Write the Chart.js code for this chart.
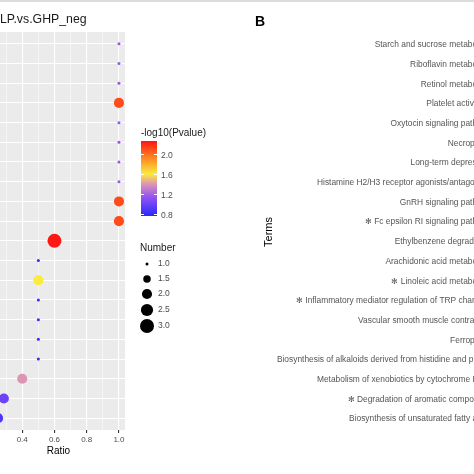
<!DOCTYPE html>
<html lang="en">
<head>
<meta charset="UTF-8">
<title>KEGG enrichment</title>
<style>
  html, body { margin: 0; padding: 0; width: 474px; height: 474px; overflow: hidden; background: #fff; }
  #wrapA { position: absolute; left: -40px; top: 0; width: 277px; height: 474px; }
  #wrapB { position: absolute; left: 237px; top: 0; width: 400px; height: 474px; }
  .topband { position: absolute; left: 0; top: 0; width: 474px; height: 2px; background: #dcdcdc; }
</style>
</head>
<body>
<div id="wrapA"><canvas id="chartA" width="277" height="474"></canvas></div>
<div id="wrapB"><canvas id="chartB" width="400" height="474"></canvas></div>
<div class="topband"></div>

<script src="https://cdn.jsdelivr.net/npm/chart.js"></script>
<script>
// panel A values, top row first
const ratioA  = [1, 1, 1, 1, 1, 1, 1, 1, 1, 1, 0.6, 0.5, 0.5, 0.5, 0.5, 0.5, 0.5, 0.4, 0.286, 0.25];
const numberA = [1, 1, 1, 2, 1, 1, 1, 1, 2, 2, 3, 1, 2, 1, 1, 1, 1, 2, 2, 2];
const logpA   = [1.15, 1.15, 1.15, 2.1, 1.15, 1.15, 1.15, 1.15, 2.1, 2.1, 2.25, 0.8, 1.6, 0.8, 0.8, 0.8, 0.8, 1.4, 1.0, 0.9];

const xTicks = [0.4, 0.6, 0.8, 1.0];
const xMinor = [0.3, 0.5, 0.7, 0.9];
const colorTicks = [0.8, 1.2, 1.6, 2.0];
const sizeTicks = [1.0, 1.5, 2.0, 2.5, 3.0];

// panel B terms, top row first
const termsB = [
  'Starch and sucrose metabolism',
  'Riboflavin metabolism',
  'Retinol metabolism',
  'Platelet activation',
  'Oxytocin signaling pathway',
  'Necroptosis',
  'Long-term depression',
  'Histamine H2/H3 receptor agonists/antagonists',
  'GnRH signaling pathway',
  '\u273B Fc epsilon RI signaling pathway',
  'Ethylbenzene degradation',
  'Arachidonic acid metabolism',
  '\u273B Linoleic acid metabolism',
  '\u273B Inflammatory mediator regulation of TRP channels',
  'Vascular smooth muscle contraction',
  'Ferroptosis',
  'Biosynthesis of alkaloids derived from histidine and purine',
  'Metabolism of xenobiotics by cytochrome P450',
  '\u273B Degradation of aromatic compounds',
  'Biosynthesis of unsaturated fatty acids'
];

Chart.defaults.font.family = '"Liberation Sans", Arial, sans-serif';

// colour scale for -log10(Pvalue)
const cMin = 0.76, cMax = 2.26;
const cStops = [
  [0.76, [40, 40, 255]],
  [1.15, [150, 85, 240]],
  [1.4, [220, 150, 180]],
  [1.6, [250, 235, 60]],
  [2.0, [255, 110, 30]],
  [2.26, [255, 20, 20]]
];
function colorFor(v) {
  for (let i = 1; i < cStops.length; i++) {
    if (v <= cStops[i][0]) {
      const [v0, c0] = cStops[i - 1], [v1, c1] = cStops[i];
      const t = Math.max(0, (v - v0) / (v1 - v0));
      const c = c0.map((a, k) => Math.round(a + (c1[k] - a) * t));
      return `rgb(${c[0]},${c[1]},${c[2]})`;
    }
  }
  const c = cStops[cStops.length - 1][1];
  return `rgb(${c[0]},${c[1]},${c[2]})`;
}

// area-proportional point size
function radiusFor(n) {
  return Math.sqrt(9 + (n - 1) / 2 * (196 - 9)) / 2;
}

const isMajor = v => xTicks.some(t => Math.abs(t - v) < 1e-6);

const panelA = {
  id: 'panelA',
  beforeDraw(chart) {
    const { ctx, chartArea: a } = chart;
    ctx.save();
    ctx.fillStyle = '#ebebeb';
    ctx.fillRect(a.left, a.top, a.right - a.left, a.bottom - a.top);
    ctx.restore();
  },
  afterDraw(chart) {
    const ctx = chart.ctx;
    const dx = 40; // canvas sits 40px left of the page
    ctx.save();

    // title
    ctx.fillStyle = '#1a1a1a';
    ctx.font = '12.3px "Liberation Sans", Arial, sans-serif';
    ctx.textBaseline = 'middle';
    ctx.textAlign = 'left';
    ctx.fillText('LP.vs.GHP_neg', dx + 0, 20);

    // colourbar
    const barX = dx + 141, barW = 16, barTop = 141, barBot = 216;
    const yOf = v => barBot - (v - cMin) / (cMax - cMin) * (barBot - barTop);
    const grad = ctx.createLinearGradient(0, barBot, 0, barTop);
    cStops.forEach(([v, c]) => grad.addColorStop((v - cMin) / (cMax - cMin), `rgb(${c[0]},${c[1]},${c[2]})`));
    ctx.fillStyle = grad;
    ctx.fillRect(barX, barTop, barW, barBot - barTop);
    ctx.strokeStyle = '#fff';
    ctx.lineWidth = 1;
    colorTicks.forEach(v => {
      const y = Math.round(yOf(v)) + 0.5;
      ctx.beginPath();
      ctx.moveTo(barX, y); ctx.lineTo(barX + 3, y);
      ctx.moveTo(barX + barW - 3, y); ctx.lineTo(barX + barW, y);
      ctx.stroke();
      ctx.fillStyle = '#4d4d4d';
      ctx.font = '8.5px "Liberation Sans", Arial, sans-serif';
      ctx.fillText(v.toFixed(1), dx + 161, yOf(v) + 2);
    });
    ctx.fillStyle = '#1a1a1a';
    ctx.font = '10px "Liberation Sans", Arial, sans-serif';
    ctx.fillText('-log10(Pvalue)', dx + 141, 133);

    // size legend
    ctx.fillText('Number', dx + 140, 248);
    const ys = [264, 279, 294, 310, 326];
    sizeTicks.forEach((n, i) => {
      ctx.fillStyle = '#000';
      ctx.beginPath();
      ctx.arc(dx + 147, ys[i], radiusFor(n), 0, Math.PI * 2);
      ctx.fill();
      ctx.fillStyle = '#4d4d4d';
      ctx.font = '8.5px "Liberation Sans", Arial, sans-serif';
      ctx.fillText(n.toFixed(1), dx + 158, ys[i]);
    });
    ctx.restore();
  }
};

new Chart(document.getElementById('chartA'), {
  type: 'scatter',
  data: {
    datasets: [{
      data: ratioA.map((r, i) => ({ x: r, y: i })),
      pointRadius: numberA.map(radiusFor),
      pointBackgroundColor: logpA.map(colorFor),
      pointBorderWidth: 0
    }]
  },
  options: {
    responsive: false,
    animation: false,
    layout: { padding: { left: 32, right: 112, top: 32, bottom: 0 } },
    plugins: { legend: { display: false }, tooltip: { enabled: false } },
    scales: {
      x: {
        type: 'linear',
        min: 0.2125,
        max: 1.0375,
        afterBuildTicks: s => { s.ticks = xMinor.concat(xTicks).sort((a, b) => a - b).map(v => ({ value: v })); },
        ticks: {
          autoSkip: false, maxRotation: 0, padding: 2,
          color: '#4d4d4d', font: { size: 8 },
          callback: v => isMajor(v) ? v.toFixed(1) : ''
        },
        grid: {
          color: '#fff',
          lineWidth: c => (c.tick && isMajor(c.tick.value)) ? 1.1 : 0.5,
          tickColor: c => (c.tick && isMajor(c.tick.value)) ? '#333' : 'rgba(0,0,0,0)',
          tickLength: 3
        },
        border: { display: false },
        title: { display: true, text: 'Ratio', color: '#000', font: { size: 10 }, padding: { top: 0, bottom: 17 } },
        afterFit: s => { s.height = 44; }
      },
      y: {
        type: 'linear',
        reverse: true,
        min: -0.6,
        max: 19.6,
        afterBuildTicks: s => { s.ticks = ratioA.map((_, i) => ({ value: i })); },
        ticks: { display: false },
        grid: { color: '#fff', lineWidth: 1.1, drawTicks: false },
        border: { display: false },
        afterFit: s => { s.width = 0; }
      }
    }
  },
  plugins: [panelA]
});

const panelB = {
  id: 'panelB',
  afterDraw(chart) {
    const ctx = chart.ctx;
    ctx.save();
    ctx.fillStyle = '#000';
    ctx.font = 'bold 14px "Liberation Sans", Arial, sans-serif';
    ctx.textBaseline = 'middle';
    ctx.fillText('B', 18, 22);
    ctx.restore();
  }
};

new Chart(document.getElementById('chartB'), {
  type: 'scatter',
  data: { datasets: [{ data: [] }] },
  options: {
    responsive: false,
    animation: false,
    layout: { padding: { left: 25, right: 10, top: 33, bottom: 43 } },
    plugins: { legend: { display: false }, tooltip: { enabled: false } },
    scales: {
      x: { display: false, min: 0, max: 1 },
      y: {
        type: 'linear',
        reverse: true,
        min: -0.6,
        max: 19.6,
        afterBuildTicks: s => { s.ticks = termsB.map((_, i) => ({ value: i })); },
        ticks: { autoSkip: false, padding: 3, color: '#555', font: { size: 8.4 }, callback: v => termsB[v] },
        grid: { display: false, drawTicks: false },
        border: { display: false },
        title: { display: true, text: 'Terms', color: '#000', font: { size: 11 }, padding: 0 },
        afterFit: s => { s.width = 233; }
      }
    }
  },
  plugins: [panelB]
});
</script>
</body>
</html>
